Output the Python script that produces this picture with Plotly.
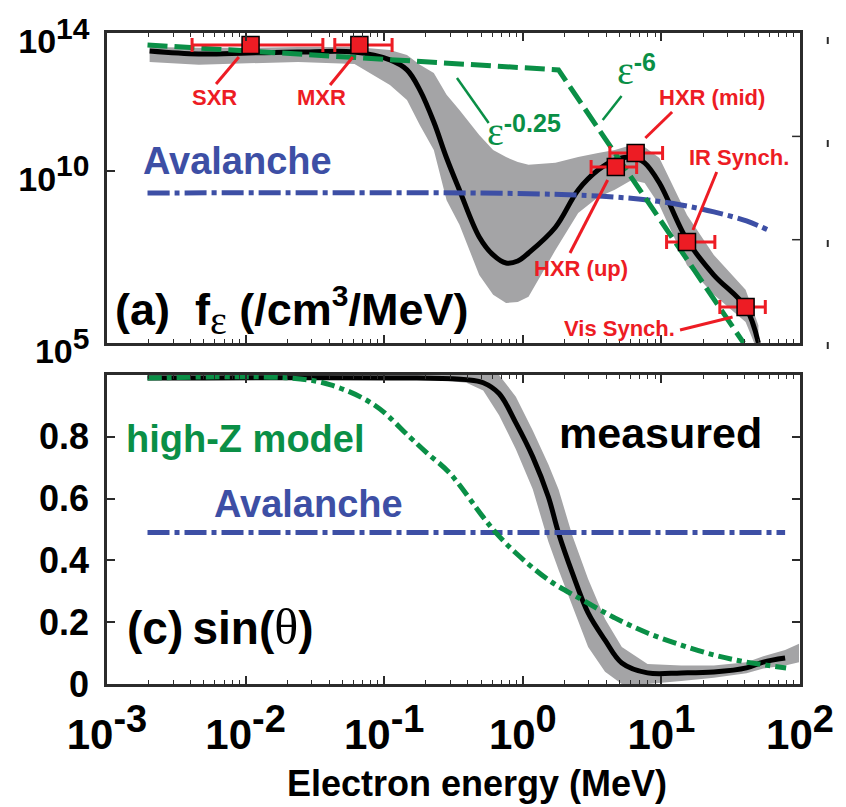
import plotly.graph_objects as go

# ---------------- panel (a): energy distribution f_eps ----------------
energy_a = [2.03e-3, 4.6e-3, 0.0105, 0.0239, 0.0611, 0.110, 0.146, 0.181, 0.228, 0.282,
            0.349, 0.485, 0.611, 0.757, 0.920, 1.10, 1.72, 2.51, 3.49, 4.61,
            6.11, 7.57, 9.68, 15.3, 23.9, 40.5, 50.1]
f_measured = [3.0e13, 2.46e13, 2.63e13, 2.8e13, 2.8e13, 1.65e13, 8.5e12, 2.2e12, 2.6e11, 2.35e10,
              2.77e9, 1.2e8, 3.6e7, 2.1e7, 2.4e7, 4.1e7, 2.3e8, 2.77e9, 1.05e10, 2.05e10,
              2.5e10, 1.7e10, 4.4e9, 9.8e7, 9.4e6, 1.1e6, 1.0e5]
f_band_hi = [3.9e13, 3.7e13, 3.7e13, 3.9e13, 3.9e13, 3.2e13, 2.3e13, 1.2e13, 6.9e12, 1.6e12,
             5.8e11, 1.1e11, 4.0e10, 2.5e10, 1.8e10, 1.5e10, 1.7e10, 2.5e10, 3.3e10, 4.0e10,
             5.6e10, 4.9e10, 2.35e10, 5.2e8, 3.6e7, 3.5e6, 3.3e5]
f_band_lo = [1.45e13, 1.2e13, 1.35e13, 1.45e13, 1.26e13, 3.1e12, 1.14e12, 2.1e11, 4.0e10, 1.4e9,
             2.7e8, 9.4e6, 2.5e6, 1.45e6, 1.55e6, 2.2e6, 5.0e7, 5.9e8, 1.7e9, 2.8e9,
             5.4e9, 4.4e9, 1.0e9, 1.8e7, 2.5e6, 4.1e5, 5.0e4]

# broken power law: eps^-0.25 then eps^-6
energy_power = [1.96e-3, 1.81, 39.2]
f_power = [4.5e13, 8.5e12, 1.0e5]

# avalanche distribution
energy_aval_a = [1.96e-3, 0.5, 2.39, 4.61, 7.94, 13.9, 23.9, 41.1, 59.0]
f_aval = [2.26e9, 2.26e9, 1.98e9, 1.73e9, 1.42e9, 1.02e9, 6.4e8, 3.5e8, 1.9e8]

# diagnostic constraints
obs_names = ["SXR", "MXR", "HXR (up)", "HXR (mid)", "IR Synch.", "Vis Synch."]
obs_energy = [0.01086, 0.0662, 4.69, 6.52, 15.3, 40.5]
obs_energy_lo = [0.00411, 0.0440, 3.11, 4.25, 10.9, 26.4]
obs_energy_hi = [0.0361, 0.114, 6.63, 10.2, 24.3, 56.2]
obs_f = [4.5e13, 4.5e13, 1.29e10, 3.29e10, 8.6e7, 1.11e6]

# ---------------- panel (c): sin(theta) ----------------
energy_c = [1.96e-3, 0.172, 0.392, 0.518, 0.674, 0.891, 1.18, 1.53, 1.81, 2.28,
            2.96, 3.92, 5.18, 7.94, 13.9, 23.9, 41.1, 54.4, 78.1]
sin_measured = [0.99, 0.99, 0.985, 0.975, 0.94, 0.845, 0.735, 0.605, 0.489, 0.359,
                0.23, 0.142, 0.068, 0.036, 0.036, 0.039, 0.052, 0.071, 0.084]
energy_c_band = energy_c + [98.4]
sin_band_hi = [1.0, 1.0, 1.0, 1.0, 1.0, 0.93, 0.82, 0.71, 0.63, 0.48,
               0.34, 0.21, 0.12, 0.065, 0.06, 0.06, 0.07, 0.09, 0.11, 0.13]
sin_band_lo = [0.99, 0.99, 0.975, 0.95, 0.87, 0.76, 0.63, 0.46, 0.37, 0.25,
               0.12, 0.04, 0.0, 0.0, 0.01, 0.02, 0.035, 0.05, 0.06, 0.07]

energy_highz = [1.96e-3, 0.0213, 0.0411, 0.0849, 0.153, 0.203, 0.296, 0.518, 0.641, 0.891,
                1.53, 2.69, 4.61, 7.94, 13.9, 23.9, 41.1, 79.4]
sin_highz = [0.99, 0.99, 0.968, 0.903, 0.799, 0.748, 0.683, 0.54, 0.489, 0.424,
             0.337, 0.272, 0.214, 0.165, 0.126, 0.094, 0.071, 0.052]

energy_aval_c = [1.96e-3, 78.1]
sin_aval = [0.49, 0.49]

x_ticks = [1e-3, 1e-2, 1e-1, 1e0, 1e1, 1e2]
x_tick_exp = ["-3", "-2", "-1", "0", "1", "2"]
ya_ticks = [1e5, 1e10, 1e14]
ya_tick_exp = ["5", "10", "14"]
yc_ticks = [0, 0.2, 0.4, 0.6, 0.8]
yc_tick_text = ["0", "0.2", "0.4", "0.6", "0.8"]

RED = "#ED1C24"
GREEN = "#0A8F46"
BLUE = "#3D4FA5"
GRAY = "#A4A4A6"
FRAME = "#2b2b2b"
SANS = "Liberation Sans, Arial, sans-serif"
SERIF = "Liberation Serif, Times New Roman, serif"

W, H = 846, 807
L, R, T, B = 107, 40, 33, 123
PW, PH = W - L - R, H - T - B


def px(x):
    return (x - L) / PW


def py(y):
    return (H - B - y) / PH


fig = go.Figure()

# ---- panel (a) traces ----
fig.add_trace(go.Scatter(x=energy_a + energy_a[::-1], y=f_band_hi + f_band_lo[::-1],
                         fill="toself", fillcolor=GRAY, line=dict(width=0), mode="lines",
                         xaxis="x", yaxis="y", hoverinfo="skip"))
fig.add_trace(go.Scatter(x=energy_a, y=f_measured, mode="lines", line=dict(color="black", width=5),
                         line_shape="spline", xaxis="x", yaxis="y"))
fig.add_trace(go.Scatter(x=energy_aval_a, y=f_aval, mode="lines", line_shape="spline",
                         line=dict(color=BLUE, width=5, dash="22px,5px,5px,5px"), xaxis="x", yaxis="y"))
fig.add_trace(go.Scatter(x=energy_power, y=f_power, mode="lines",
                         line=dict(color=GREEN, width=5, dash="20px,7px"), xaxis="x", yaxis="y"))
fig.add_trace(go.Scatter(
    x=obs_energy, y=obs_f, mode="markers",
    marker=dict(symbol="square", size=17, color=RED, line=dict(color="black", width=1.5)),
    error_x=dict(type="data", symmetric=False,
                 array=[h - e for h, e in zip(obs_energy_hi, obs_energy)],
                 arrayminus=[e - l for e, l in zip(obs_energy, obs_energy_lo)],
                 color=RED, thickness=3, width=7),
    xaxis="x", yaxis="y"))

# ---- panel (c) traces ----
fig.add_trace(go.Scatter(x=energy_c_band + energy_c_band[::-1], y=sin_band_hi + sin_band_lo[::-1],
                         fill="toself", fillcolor=GRAY, line=dict(width=0), mode="lines",
                         xaxis="x2", yaxis="y2", hoverinfo="skip"))
fig.add_trace(go.Scatter(x=energy_c, y=sin_measured, mode="lines", line_shape="spline",
                         line=dict(color="black", width=5), xaxis="x2", yaxis="y2"))
fig.add_trace(go.Scatter(x=energy_aval_c, y=sin_aval, mode="lines",
                         line=dict(color=BLUE, width=5, dash="22px,5px,5px,5px"), xaxis="x2", yaxis="y2"))
fig.add_trace(go.Scatter(x=energy_highz, y=sin_highz, mode="lines", line_shape="spline",
                         line=dict(color=GREEN, width=5, dash="14px,5px,5px,5px"), xaxis="x2", yaxis="y2"))


def sup_text(base, exp, size):
    return f"{base}<sup><span style='font-size:{size}px'>{exp}</span></sup>"


axis_common = dict(showline=True, linewidth=2.5, linecolor=FRAME, ticks="inside",
                   tickcolor=FRAME, showgrid=False, zeroline=False)
xminor = dict(ticks="inside", ticklen=4, tickwidth=1, tickcolor=FRAME, dtick="D1", showgrid=False)

top_dom = [py(343), 1.0]
bot_dom = [0.0, py(375)]

fig.update_layout(
    width=W, height=H, margin=dict(l=L, r=R, t=T, b=B),
    paper_bgcolor="white", plot_bgcolor="white", showlegend=False,
    font=dict(family=SANS, color="black", weight="bold"),
    xaxis=dict(type="log", range=[-3, 2], anchor="y", domain=[0, 1], tickvals=x_ticks,
               showticklabels=False, ticklen=8, tickwidth=1.5, mirror="ticks",
               minor=xminor, **axis_common),
    yaxis=dict(type="log", range=[5, 14], anchor="x", domain=top_dom, tickvals=ya_ticks,
               ticktext=[sup_text("10", e, 30) for e in ya_tick_exp], ticklen=8, tickwidth=1.5,
               mirror=True, tickfont=dict(size=34), ticklabelstandoff=8, ticklabelshift=8,
               ticklabeloverflow="allow", **axis_common),
    xaxis2=dict(type="log", range=[-3, 2], anchor="y2", domain=[0, 1], tickvals=x_ticks,
                ticktext=[sup_text("10", e, 38) for e in x_tick_exp], tickfont=dict(size=42),
                ticklen=8, tickwidth=1.5, mirror="ticks", minor=xminor, ticklabelstandoff=12,
                ticklabeloverflow="allow", **axis_common),
    yaxis2=dict(range=[0, 1], anchor="x2", domain=bot_dom, tickvals=yc_ticks,
                ticktext=yc_tick_text, tickfont=dict(size=36), ticklen=8, tickwidth=1.5,
                mirror="ticks", ticklabelstandoff=8, **axis_common),
)

annotations = []


def add_text(text, x, y, size, color="black", xanchor="center", yanchor="middle", family=SANS):
    annotations.append(dict(text=text, x=px(x), y=py(y), xref="paper", yref="paper",
                            xanchor=xanchor, yanchor=yanchor, showarrow=False,
                            font=dict(size=size, color=color, family=family)))


def serif(ch, size):
    return f"<span style='font-family:{SERIF};font-weight:normal;font-size:{size}px'>{ch}</span>"


# panel labels and curve names
add_text(f"(a)  f<sub>{serif('ε', 40)}</sub> (/cm<sup><span style='font-size:30px'>3</span></sup>/MeV)",
         113, 311, 45, xanchor="left")
add_text("Avalanche", 239, 161, 38, color=BLUE)
add_text(f"{serif('ε', 40)}<sup><span style='font-size:25px'>-0.25</span></sup>",
         488, 131, 30, color=GREEN, xanchor="left")
add_text(f"{serif('ε', 40)}<sup><span style='font-size:25px'>-6</span></sup>",
         619, 70, 30, color=GREEN, xanchor="left")

add_text("high-Z model", 247, 439, 38, color=GREEN)
add_text("Avalanche", 310, 504, 38, color=BLUE)
add_text(f"(c)&#8201;sin({serif('θ', 50)})", 125, 627, 46, xanchor="left")
add_text("measured", 665, 433, 43)
add_text("Electron energy (MeV)", 480, 783, 36)

# diagnostic labels
obs_label_pos = {
    "SXR": (215, 97), "MXR": (323, 97), "HXR (mid)": (717, 98),
    "IR Synch.": (744, 157), "HXR (up)": (585, 268), "Vis Synch.": (624, 328),
}
for name in obs_names:
    lx, ly = obs_label_pos[name]
    add_text(name, lx, ly, 22, color=RED)

fig.update_layout(annotations=annotations)

shapes = []


def add_line(x0, y0, x1, y1, color, width):
    shapes.append(dict(type="line", xref="paper", yref="paper", x0=px(x0), y0=py(y0),
                       x1=px(x1), y1=py(y1), line=dict(color=color, width=width)))


# leader lines for the diagnostic labels
add_line(240, 57, 217, 84, RED, 3)
add_line(355, 57, 332, 85, RED, 3)
add_line(677, 112, 650, 138, RED, 3)
add_line(722, 172, 698, 230, RED, 3)
add_line(574, 253, 612, 180, RED, 3)
add_line(685, 330, 738, 317, RED, 3)
# leader lines for the power-law labels
add_line(460, 78, 492, 123, GREEN, 2.5)
add_line(607, 120, 626, 96, GREEN, 2.5)
# right-hand ticks of panel (a)
for yy in (136.4, 239.7):
    add_line(806, yy, 798, yy, FRAME, 1.5)
# tick marks of the neighbouring axis at the right edge
for yy in (40, 143, 243, 345):
    add_line(834, yy - 3, 834, yy + 4, FRAME, 2)

fig.update_layout(shapes=shapes)

fig.write_html("out.html")
